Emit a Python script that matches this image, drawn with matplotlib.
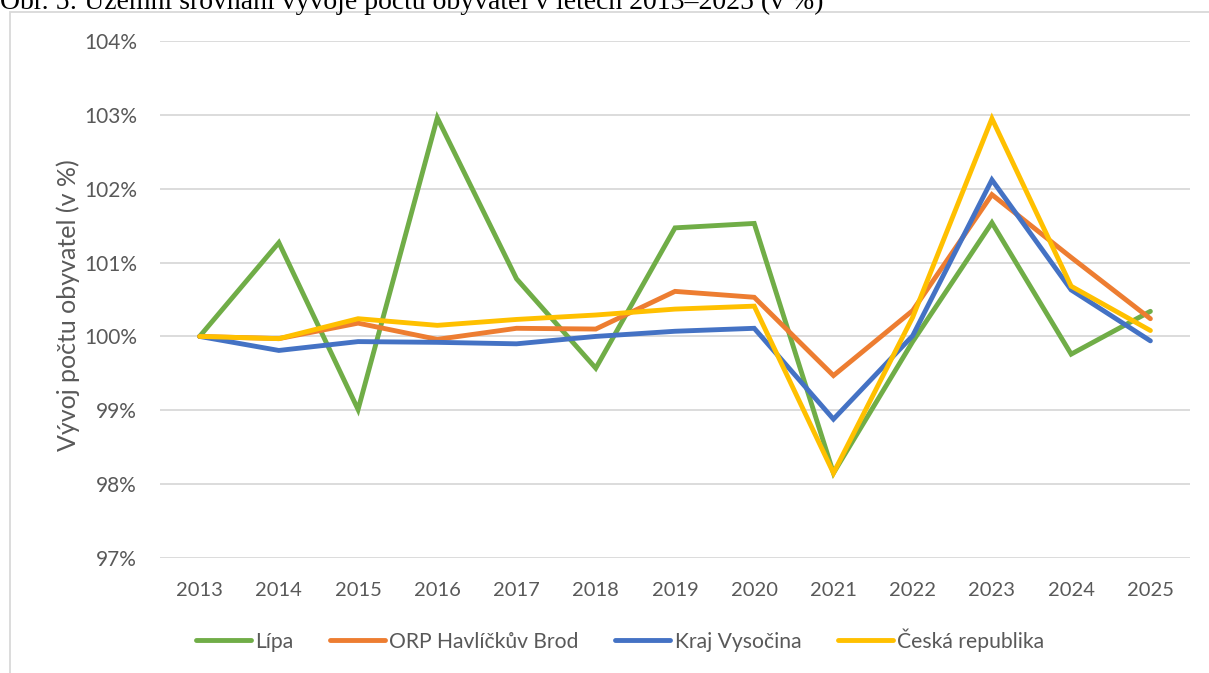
import matplotlib.pyplot as plt
from matplotlib.patches import Rectangle
from matplotlib.ticker import FuncFormatter

years = ["2013", "2014", "2015", "2016", "2017", "2018", "2019",
         "2020", "2021", "2022", "2023", "2024", "2025"]

lipa = [100.0, 101.27, 99.01, 102.96, 100.78, 99.57, 101.47,
        101.53, 98.15, 99.93, 101.54, 99.76, 100.34]
orp_hb = [100.0, 99.97, 100.18, 99.96, 100.11, 100.10, 100.61,
          100.53, 99.47, 100.35, 101.92, 101.07, 100.24]
kraj = [100.0, 99.81, 99.93, 99.92, 99.90, 100.0, 100.07,
        100.11, 98.88, 100.01, 102.12, 100.63, 99.94]
cr = [100.0, 99.97, 100.24, 100.15, 100.23, 100.29, 100.37,
      100.41, 98.15, 100.26, 102.95, 100.68, 100.08]

series = [
    ("Lípa", lipa, "#70ad47"),
    ("ORP Havlíčkův Brod", orp_hb, "#ed7d31"),
    ("Kraj Vysočina", kraj, "#4472c4"),
    ("Česká republika", cr, "#ffc000"),
]

plt.rcParams["font.family"] = ["Lato", "DejaVu Sans"]

W, H = 1209, 673
fig = plt.figure(figsize=(W / 100, H / 100), dpi=100)

# chart area border (the reference is cropped on the right and bottom)
fig.patches.append(Rectangle((9.5 / W, -0.1), 1.2, 1 - 11.5 / H + 0.1,
                             transform=fig.transFigure, fill=False,
                             edgecolor="#d9d9d9", linewidth=1.3))

# caption, cut off at the top edge like in the source picture
fig.text(0, 1 - 9 / H,
         "Obr. 5: Územní srovnání vývoje počtu obyvatel v letech 2013–2025 (v %)",
         family="Liberation Serif", fontsize=20, ha="left", va="baseline",
         color="black")

ax = fig.add_axes([160 / W, 1 - 558 / H, 1030 / W, (558 - 41) / H])

x = range(len(years))
for label, values, color in series:
    ax.plot(x, values, color=color, linewidth=3.5, label=label,
            solid_joinstyle="miter", solid_capstyle="round")

ax.set_xlim(-0.5, len(years) - 0.5)
ax.set_ylim(97, 104)
ax.set_yticks(range(97, 105))
ax.yaxis.set_major_formatter(FuncFormatter(lambda v, p: f"{v:.0f}%"))
ax.set_xticks(list(x))
ax.set_xticklabels(years)
ax.grid(axis="y", color="#d9d9d9", linewidth=1.3)
ax.set_axisbelow(True)
for side in ax.spines:
    ax.spines[side].set_visible(False)
ax.tick_params(axis="x", length=0, labelsize=14.5, colors="#595959", pad=17)
ax.tick_params(axis="y", length=0, labelsize=15, colors="#595959", pad=16.5)
ax.set_ylabel("Vývoj počtu obyvatel (v %)", fontsize=18, color="#595959")
ax.yaxis.set_label_coords(-0.078, 0.49)

fig.legend(loc="center", bbox_to_anchor=(620 / W, 1 - 640 / H), ncol=4,
           frameon=False, fontsize=15.2, labelcolor="#595959",
           handlelength=2.6, handletextpad=0.2, columnspacing=1.75)

fig.savefig("out.png", dpi=100)
